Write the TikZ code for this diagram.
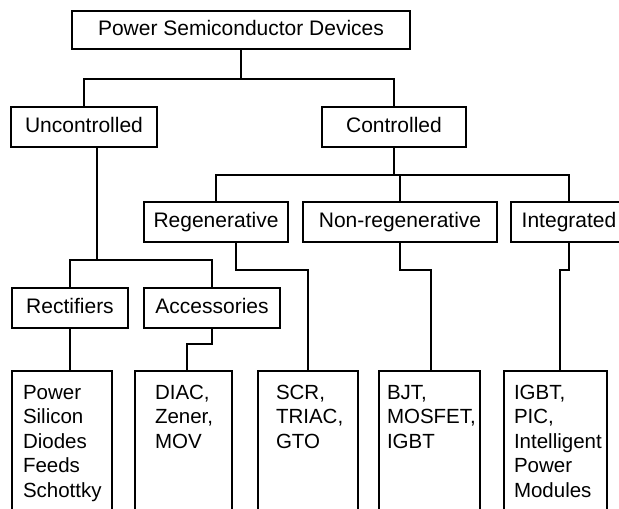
\documentclass[tikz,border=0pt]{standalone}
\usepackage{fontspec}
\setmainfont{Liberation Sans}
\usetikzlibrary{calc}
\hyphenpenalty=10000
\exhyphenpenalty=10000

\begin{document}
\begin{tikzpicture}[
    x=1bp, y=-1bp,
    every node/.style={font=\fontsize{21bp}{24.5bp}\selectfont, text=black},
    catbox/.style={draw, line width=2bp, minimum height=39bp,
        text height=15bp, text depth=4.5bp, inner sep=0pt},
    leafbox/.style={draw, line width=2bp, anchor=north west, align=left,
        inner ysep=14bp, text depth=140bp,
        font=\fontsize{20.5bp}{24.5bp}\selectfont},
    link/.style={line width=2bp}
]
\useasboundingbox (0,0) rectangle (619,509);
\clip (0,0) rectangle (619,509);

% Root
\node[catbox, minimum width=338bp, minimum height=38bp] (pwr) at (241,30) {Power Semiconductor Devices};

% Level 1
\node[catbox, minimum width=146bp, minimum height=40bp] (unc) at (84,127) {Uncontrolled};
\node[catbox, minimum width=144bp, minimum height=40bp] (ctl) at (394,127) {Controlled};

% Level 2
\node[catbox, minimum width=144bp, minimum height=40bp] (regen) at (216,222) {Regenerative};
\node[catbox, minimum width=194bp, minimum height=40bp] (nonregen) at (400,222) {Non-regenerative};
\node[catbox, minimum width=116bp, minimum height=40bp] (integ) at (569,222) {Integrated};
\node[catbox, minimum width=116bp, minimum height=40bp] (rect) at (70,308) {Rectifiers};
\node[catbox, minimum width=136bp, minimum height=40bp] (acc) at (212,308) {Accessories};

% Device lists
\node[leafbox, inner xsep=11bp, text width=77.5bp] (b1) at (11,370) {Power\\Silicon\\Diodes\\Feeds\\Schottky};
\node[leafbox, inner xsep=20bp, text width=57bp] (b2) at (134,370) {DIAC,\\Zener,\\MOV};
\node[leafbox, inner xsep=18bp, text width=64bp] (b3) at (257,370) {SCR,\\TRIAC,\\GTO};
\node[leafbox, inner xsep=8bp, text width=85bp] (b4) at (378,370) {BJT,\\MOSFET,\\IGBT};
\node[leafbox, inner xsep=10bp, text width=83bp] (b5) at (503,370) {IGBT,\\PIC,\\Intelligent\\Power\\Modules};

% Root split
\draw[link] (pwr.south) -- ++(0,29) coordinate (j1);
\draw[link] (unc.north) |- (j1) -| (ctl.north);

% Uncontrolled split
\draw[link] ([xshift=13bp]unc.south) -- ++(0,112) coordinate (j2);
\draw[link] (rect.north) |- (j2) -| (acc.north);

% Controlled split
\draw[link] (ctl.south) -- ++(0,27) coordinate (j3);
\draw[link] (regen.north) |- (j3) -| (integ.north);
\draw[link] (nonregen.north) -- (nonregen.north |- j3);

% Down to the device lists
\draw[link] (rect.south) -- (rect.south |- b1.north);
\draw[link] (acc.south) -- ++(0,15) -| ([xshift=3.5bp]b2.north);
\draw[link] ([xshift=20bp]regen.south) -- ++(0,27) -| (b3.north);
\draw[link] (nonregen.south) -- ++(0,27) -| ([xshift=1.5bp]b4.north);
\draw[link] (integ.south) -- ++(0,27) -| ([xshift=4.5bp]b5.north);

\end{tikzpicture}
\end{document}
